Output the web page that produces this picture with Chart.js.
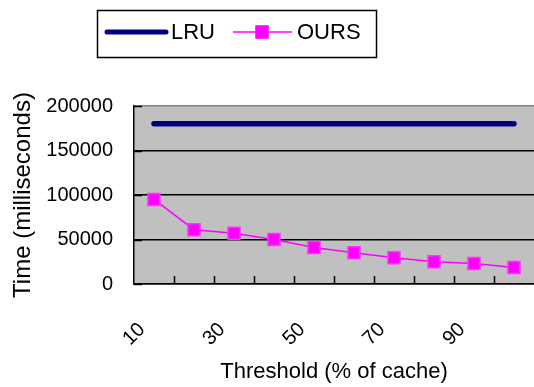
<!DOCTYPE html>
<html><head><meta charset="utf-8">
<script src="https://cdn.jsdelivr.net/npm/chart.js@4.4.0/dist/chart.umd.min.js"></script>
<style>html,body{margin:0;padding:0;background:#fff;overflow:hidden;width:534px;height:387px}</style>
</head><body>
<canvas id="c" width="544" height="387"></canvas>
<script>
const categories = ['10','20','30','40','50','60','70','80','90','100'];
const lruValues = [180000,180000,180000,180000,180000,180000,180000,180000,180000,180000];
const oursValues = [95000,61000,57000,50000,41000,35000,29500,25000,23000,18500];
const yTicks = [0,50000,100000,150000,200000];
const seriesNames = ['LRU','OURS'];
const xTitle = 'Threshold (% of cache)';
const yTitle = 'Time (milliseconds)';

const FONT = "'Liberation Sans',Arial,sans-serif";

const bgPlugin = {
  id: 'bg',
  beforeDraw(chart) {
    const {ctx, chartArea: a} = chart;
    ctx.save();
    ctx.fillStyle = '#fff';
    ctx.fillRect(0, 0, chart.width, chart.height);
    ctx.fillStyle = '#C0C0C0';
    ctx.fillRect(a.left, a.top, a.right - a.left, a.bottom - a.top);
    ctx.restore();
  },
  beforeDatasetsDraw(chart) {
    const {ctx, chartArea: a, scales: {x, y}} = chart;
    ctx.save();
    ctx.strokeStyle = '#000';
    ctx.lineWidth = 1.5;
    ctx.beginPath();
    for (let i = 0; i < categories.length - 1; i++) {
      const px = Math.round((x.getPixelForValue(i) + x.getPixelForValue(i + 1)) / 2) + 0.5;
      ctx.moveTo(px, a.bottom);
      ctx.lineTo(px, a.bottom - 8);
    }
    yTicks.forEach(v => {
      const py = Math.round(y.getPixelForValue(v)) + 0.5;
      ctx.moveTo(a.left, py);
      ctx.lineTo(a.left + 8, py);
    });
    ctx.stroke();
    ctx.restore();
  },
  afterDraw(chart) {
    const ctx = chart.ctx;
    const ds = chart.data.datasets;
    ctx.save();
    ctx.fillStyle = '#fff';
    ctx.strokeStyle = '#000';
    ctx.lineWidth = 1.5;
    ctx.fillRect(97, 10, 279, 48);
    ctx.strokeRect(97.5, 10.5, 279, 47);
    const cy = 32;
    ctx.font = "22px " + FONT;
    ctx.textBaseline = 'middle';
    ctx.textAlign = 'left';
    ctx.strokeStyle = ds[0].borderColor;
    ctx.lineWidth = 5;
    ctx.lineCap = 'round';
    ctx.beginPath(); ctx.moveTo(107, cy); ctx.lineTo(166, cy); ctx.stroke();
    ctx.fillStyle = '#000';
    ctx.fillText(ds[0].label, 171, cy + 1);
    ctx.strokeStyle = ds[1].borderColor;
    ctx.lineWidth = 1.5;
    ctx.lineCap = 'butt';
    ctx.beginPath(); ctx.moveTo(233, cy); ctx.lineTo(292, cy); ctx.stroke();
    ctx.fillStyle = ds[1].backgroundColor;
    ctx.fillRect(256, cy - 6, 12, 12);
    ctx.strokeRect(256, cy - 6, 12, 12);
    ctx.fillStyle = '#000';
    ctx.fillText(ds[1].label, 297, cy + 1);
    ctx.restore();
  }
};

new Chart(document.getElementById('c'), {
  type: 'line',
  data: {
    labels: categories,
    datasets: [
      {
        label: seriesNames[0],
        data: lruValues,
        borderColor: '#000080',
        backgroundColor: '#000080',
        borderWidth: 5.5,
        borderCapStyle: 'round',
        pointRadius: 0,
        pointHoverRadius: 0,
        tension: 0
      },
      {
        label: seriesNames[1],
        data: oursValues,
        borderColor: '#FF00FF',
        backgroundColor: '#FF00FF',
        borderWidth: 1.5,
        pointStyle: 'rect',
        pointRadius: 8.5,
        pointBorderWidth: 1.5,
        pointBorderColor: '#FF33FF',
        pointBackgroundColor: '#FF00FF',
        tension: 0
      }
    ]
  },
  options: {
    responsive: false,
    animation: false,
    devicePixelRatio: 1,
    layout: { padding: { top: 106, right: 0, left: 0, bottom: 0 } },
    plugins: { legend: { display: false }, tooltip: { enabled: false } },
    scales: {
      x: {
        offset: true,
        grid: { display: false, drawTicks: false },
        border: { display: true, color: '#000', width: 1.5 },
        ticks: {
          autoSkip: false,
          minRotation: 45,
          maxRotation: 45,
          padding: 34,
          labelOffset: -12,
          color: '#000',
          font: { family: FONT, size: 20 },
          callback: function(v, i) { return i % 2 === 0 ? categories[i] : ''; }
        },
        title: {
          display: true, text: xTitle, color: '#000',
          font: { family: FONT, size: 22 },
          padding: { top: 0, bottom: 2 }
        },
        afterFit(s) { s.height = 103; s.paddingLeft = 0; s.paddingRight = 0; }
      },
      y: {
        min: 0, max: 200000,
        afterBuildTicks(s) { s.ticks = yTicks.map(v => ({ value: v })); },
        grid: {
          drawTicks: false,
          color: c => (c.tick && c.tick.value === 200000) ? '#808080' : '#000',
          lineWidth: 1.5
        },
        border: { display: true, color: '#000', width: 1.5 },
        ticks: {
          padding: 21,
          color: '#000',
          font: { family: FONT, size: 20 },
          callback: v => String(v)
        },
        title: {
          display: true, text: yTitle, color: '#000',
          font: { family: FONT, size: 24 },
          padding: { top: 9, bottom: 0 }
        },
        afterFit(s) { s.width = 134; s.paddingTop = 0; s.paddingBottom = 0; }
      }
    }
  },
  plugins: [bgPlugin]
});
</script>
</body></html>
